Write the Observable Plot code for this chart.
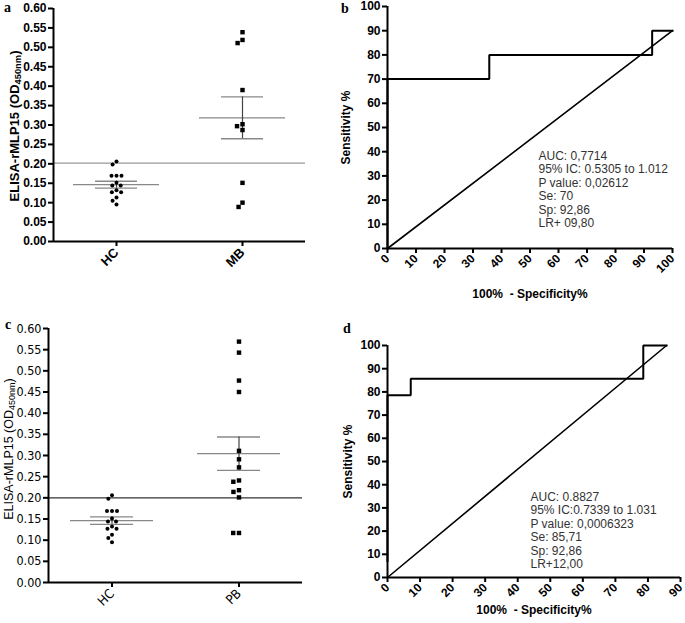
<!DOCTYPE html>
<html><head><meta charset="utf-8">
<script src="https://cdn.jsdelivr.net/npm/d3@7"></script>
<script src="https://cdn.jsdelivr.net/npm/@observablehq/plot@0.6"></script>
<style>
body{margin:0;background:#fff;}
#fig{position:relative;width:685px;height:623px;overflow:hidden;background:#fff;}
.panel{position:absolute;pointer-events:none;}
.panel svg{display:block;overflow:visible;}
.tag{position:absolute;font-family:"Liberation Serif","Times New Roman",serif;font-weight:bold;font-size:14px;line-height:1;color:#000;}
.ylab{position:absolute;white-space:nowrap;transform:translate(-50%,-50%) rotate(-90deg);font-family:"Liberation Sans",Arial,sans-serif;color:#000;line-height:1;}
.ylab sub{font-size:72%;vertical-align:-0.3em;line-height:0;}
</style></head><body><div id="fig"></div>
<script>
// ---------- data ----------
const groupsA = ["HC", "MB"];
const groupsC = ["HC", "PB"];
const hcValues = [0.206, 0.198, 0.169, 0.169, 0.169, 0.151, 0.144, 0.144, 0.132, 0.127, 0.127, 0.113, 0.105, 0.095];
const mbValues = [0.539, 0.519, 0.511, 0.390, 0.302, 0.297, 0.287, 0.151, 0.100, 0.089];
const pbValues = [0.569, 0.543, 0.477, 0.450, 0.311, 0.291, 0.272, 0.241, 0.238, 0.218, 0.214, 0.201, 0.117, 0.117];
const cutoffA = 0.202;
const cutoffC = 0.200;
const elisaDomain = [0, 0.6];
const elisaTicks = [0, 0.05, 0.10, 0.15, 0.20, 0.25, 0.30, 0.35, 0.40, 0.45, 0.50, 0.55, 0.60];

const rocYTicks = [0, 10, 20, 30, 40, 50, 60, 70, 80, 90, 100];
const rocXTicksB = [0, 10, 20, 30, 40, 50, 60, 70, 80, 90, 100];
const rocXTicksD = [0, 10, 20, 30, 40, 50, 60, 70, 80, 90];
const rocBx = [0, 0, 35.71, 35.71, 92.86, 92.86, 100];
const rocBy = [0, 70, 70, 80, 80, 90, 90];
const diagBx = [0, 100];
const diagBy = [0, 90];
const rocDx = [0, 0, 7.14, 7.14, 78.57, 78.57, 85.71];
const rocDy = [7.14, 78.57, 78.57, 85.71, 85.71, 100, 100];
const diagDx = [0, 85.71];
const diagDy = [0, 100];
const statsB = ["AUC: 0,7714", "95% IC: 0.5305 to 1.012", "P value: 0,02612", "Se: 70", "Sp: 92,86", "LR+ 09,80"];
const statsD = ["AUC: 0.8827", "95% IC:0.7339 to 1.031", "P value: 0,0006323", "Se: 85,71", "Sp: 92,86", "LR+12,00"];
const xLabel = "100%\u00a0 - Specificity%";
const yLabelRoc = "Sensitivity %";

// ---------- helpers ----------
const fig = document.getElementById("fig");
function place(node, left, top) {
  const d = document.createElement("div");
  d.className = "panel";
  d.style.left = left + "px";
  d.style.top = top + "px";
  d.appendChild(node);
  fig.appendChild(d);
  return node;
}
function addHTML(cls, html, styles) {
  const d = document.createElement("div");
  d.className = cls;
  d.innerHTML = html;
  Object.assign(d.style, styles);
  fig.appendChild(d);
  return d;
}

function dotPanel(o) {
  const rows = o.groups.flatMap((g, i) => o.series[i].map(v => ({group: g, value: v})));
  const stats = o.groups.map((g, i) => {
    const v = o.series[i];
    const m = d3.mean(v);
    const s = d3.deviation(v) / Math.sqrt(v.length);
    return {group: g, mean: m, lo: m - s, hi: m + s};
  });
  return Plot.plot({
    width: o.width, height: o.height,
    marginLeft: o.ml, marginRight: o.mr, marginTop: o.mt, marginBottom: o.mb,
    style: {fontFamily: o.font, fontSize: o.fontSize + "px", fontWeight: o.weight, color: "#000", background: "transparent"},
    fx: {domain: o.groups, padding: 0, round: false},
    y: {domain: elisaDomain},
    marks: [
      Plot.ruleY([o.cutoff], {stroke: o.cutoffColor, strokeWidth: 1.3}),
      Plot.ruleY(stats, {fx: "group", y: "mean", stroke: o.meanColor, strokeWidth: 1.3, insetLeft: o.meanInset, insetRight: o.meanInset}),
      Plot.ruleY(stats, {fx: "group", y: "hi", stroke: o.meanColor, strokeWidth: 1.3, insetLeft: o.capInset, insetRight: o.capInset}),
      Plot.ruleY(stats, {fx: "group", y: "lo", stroke: o.meanColor, strokeWidth: 1.3, insetLeft: o.capInset, insetRight: o.capInset}),
      Plot.ruleX(stats, {fx: "group", x: null, y1: "lo", y2: "hi", stroke: "#444", strokeWidth: 1.2}),
      Plot.dot(rows.filter(d => d.group === "HC"), Plot.dodgeX({anchor: "middle", padding: 1}, {fx: "group", y: "value", r: 2, fill: "#000", stroke: null, symbol: "circle"})),
      Plot.dot(rows.filter(d => d.group !== "HC"), Plot.dodgeX({anchor: "middle", padding: 0.8}, {fx: "group", y: "value", r: 2.5, fill: "#000", stroke: null, symbol: "square"})),
      Plot.ruleY([0], {stroke: "#000", strokeWidth: 2}),
      Plot.axisY({ticks: elisaTicks, tickFormat: d3.format(".2f"), tickSize: 5, tickPadding: 2, strokeWidth: 2, label: null, fontWeight: o.weight, fontSize: o.fontSize}),
      Plot.axisFx({anchor: "bottom", tickSize: 5, tickPadding: o.fxPad, strokeWidth: 2, tickRotate: -45, label: null, fontSize: o.fxSize, fontWeight: o.weight})
    ]
  });
}

// un-faceted layer with the same frame: draws the y-axis line of a dot panel
function axisLineLayer(o) {
  return Plot.plot({
    width: o.width, height: o.height,
    marginLeft: o.ml, marginRight: o.mr, marginTop: o.mt, marginBottom: o.mb,
    style: {background: "transparent"},
    x: {domain: [0, 1], axis: null},
    y: {domain: elisaDomain, axis: null},
    marks: [Plot.ruleX([0], {stroke: "#000", strokeWidth: 2})]
  });
}

function rocPanel(o) {
  const curve = o.cx.map((x, i) => ({x, y: o.cy[i]}));
  const diag = o.dx.map((x, i) => ({x, y: o.dy[i]}));
  return Plot.plot({
    width: o.width, height: o.height,
    marginLeft: o.ml, marginRight: o.mr, marginTop: o.mt, marginBottom: o.mb,
    style: {fontFamily: "'Liberation Sans', Arial, sans-serif", fontSize: "12px", fontWeight: "bold", color: "#000", background: "transparent"},
    x: {domain: o.xDomain},
    y: {domain: [0, 100]},
    marks: [
      Plot.line(diag, {x: "x", y: "y", stroke: "#000", strokeWidth: 1.6}),
      Plot.line(curve, {x: "x", y: "y", stroke: "#000", strokeWidth: 2, strokeLinejoin: "miter", strokeLinecap: "square"}),
      Plot.ruleX([o.xDomain[0]], {stroke: "#000", strokeWidth: 2}),
      Plot.ruleY([0], {stroke: "#000", strokeWidth: 2}),
      Plot.text([o.stats.join("\n")], {frameAnchor: "top-left", dx: o.tdx, dy: o.tdy, textAnchor: "start", lineAnchor: "top", lineHeight: 1.12, fontSize: 12, fontWeight: "normal", fill: "#333"}),
      Plot.axisY({ticks: rocYTicks, tickSize: 5, tickPadding: 2, strokeWidth: 2, label: yLabelRoc, labelAnchor: "center", labelOffset: o.ylo, labelArrow: "none", fontSize: 12, fontWeight: "bold"}),
      Plot.axisX({ticks: o.xTicks, tickSize: 5, tickPadding: 3, strokeWidth: 2, tickRotate: -45, label: xLabel, labelAnchor: "center", labelOffset: o.xlo, labelArrow: "none", fontSize: 12, fontWeight: "bold"})
    ]
  });
}

// ---------- panel a ----------
const optA = {
  groups: groupsA, series: [hcValues, mbValues], cutoff: cutoffA,
  cutoffColor: "#999", meanColor: "#888", width: 340, height: 300,
  ml: 53, mr: 35, mt: 8, mb: 59,
  font: "'Liberation Sans', Arial, sans-serif", fontSize: 12, weight: "bold", fxSize: 13, fxPad: 4,
  meanInset: 20, capInset: 42
};
place(dotPanel(optA), 0, 0);
place(axisLineLayer(optA), 0, 0);

// ---------- panel b ----------
place(rocPanel({
  cx: rocBx, cy: rocBy, dx: diagBx, dy: diagBy, xDomain: [0, 100], xTicks: rocXTicksB, stats: statsB,
  width: 345, height: 300, ml: 47, mr: 13, mt: 6, mb: 52,
  tdx: 151, tdy: 144, ylo: 46, xlo: 49
}), 340, 0);

// ---------- panel c ----------
const optC = {
  groups: groupsC, series: [hcValues, pbValues], cutoff: cutoffC,
  cutoffColor: "#333", meanColor: "#888", width: 340, height: 313,
  ml: 48, mr: 38, mt: 18, mb: 41,
  font: "'Liberation Sans Narrow', 'DejaVu Sans Condensed', Arial, sans-serif", fontSize: 12.5, weight: "normal", fxSize: 13, fxPad: 4,
  meanInset: 22, capInset: 42
};
place(dotPanel(optC), 0, 310);
place(axisLineLayer(optC), 0, 310);

// ---------- panel d ----------
place(rocPanel({
  cx: rocDx, cy: rocDy, dx: diagDx, dy: diagDy, xDomain: [0, 90], xTicks: rocXTicksD, stats: statsD,
  width: 345, height: 313, ml: 47, mr: 5, mt: 35, mb: 46,
  tdx: 143, tdy: 146, ylo: 44, xlo: 36
}), 340, 310);

// ---------- labels ----------
addHTML("ylab", "ELISA-rMLP15 (OD<sub>450nm</sub>)", {left: "14px", top: "126px", fontSize: "13px", fontWeight: "bold"});
addHTML("ylab", "ELISA-rMLP15 (OD<sub>450nm</sub>)", {left: "9px", top: "449px", fontSize: "12.5px", fontWeight: "normal"});
addHTML("tag", "a", {left: "4px", top: "1px"});
addHTML("tag", "b", {left: "341px", top: "2px"});
addHTML("tag", "c", {left: "5px", top: "318px"});
addHTML("tag", "d", {left: "343px", top: "322px"});
</script></body></html>
